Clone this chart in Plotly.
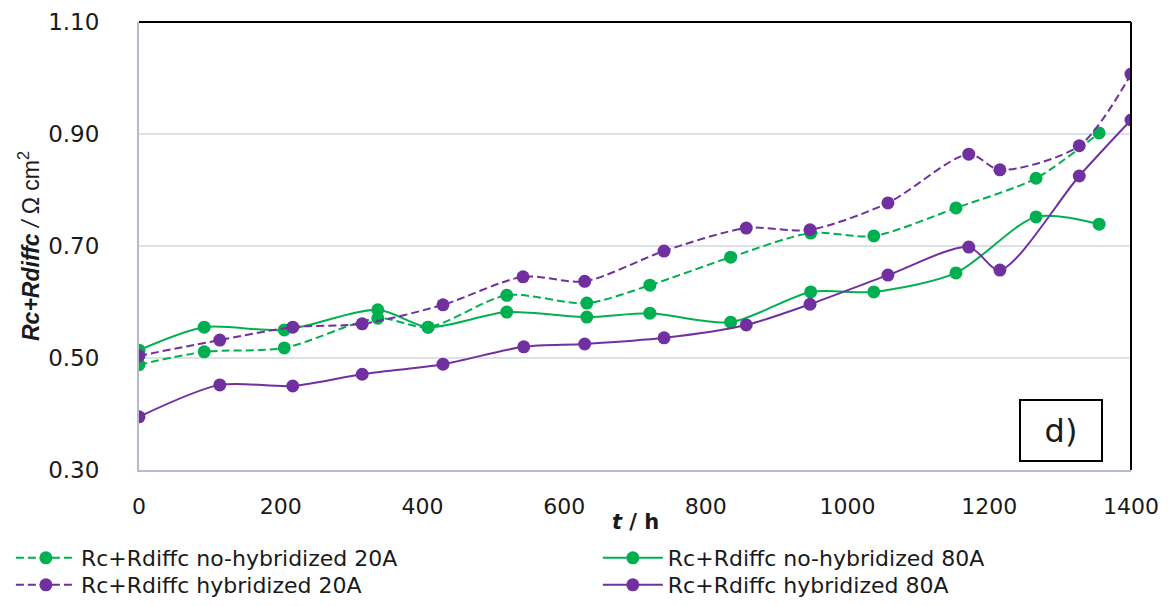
import plotly.graph_objects as go

# Data
t_nohyb20 = [0, 92, 205, 337, 408, 519, 632, 721, 835, 948, 1037, 1153, 1266, 1355]
y_nohyb20 = [0.488, 0.511, 0.518, 0.571, 0.555, 0.612, 0.598, 0.630, 0.680, 0.723, 0.718, 0.768, 0.821, 0.902]

t_nohyb80 = [0, 92, 205, 337, 408, 519, 632, 721, 835, 948, 1037, 1153, 1266, 1355]
y_nohyb80 = [0.514, 0.555, 0.550, 0.586, 0.555, 0.582, 0.573, 0.580, 0.564, 0.618, 0.618, 0.652, 0.752, 0.739]

t_hyb20 = [0, 114, 217, 315, 429, 542, 629, 741, 857, 947, 1057, 1171, 1215, 1327, 1400]
y_hyb20 = [0.504, 0.532, 0.555, 0.561, 0.595, 0.645, 0.637, 0.691, 0.732, 0.729, 0.777, 0.864, 0.836, 0.879, 1.007]

t_hyb80 = [0, 114, 217, 315, 429, 543, 629, 741, 857, 947, 1057, 1171, 1215, 1327, 1400]
y_hyb80 = [0.395, 0.452, 0.450, 0.471, 0.489, 0.520, 0.525, 0.536, 0.559, 0.596, 0.648, 0.698, 0.657, 0.825, 0.925]

names = ["Rc+Rdiffc no-hybridized 20A", "Rc+Rdiffc no-hybridized 80A",
         "Rc+Rdiffc hybridized 20A", "Rc+Rdiffc hybridized 80A"]

x_ticks = [0, 200, 400, 600, 800, 1000, 1200, 1400]
y_ticks = [0.30, 0.50, 0.70, 0.90, 1.10]

GREEN = "#00B050"
PURPLE = "#7030A0"
FONT = "DejaVu Sans"
TXT = "#1a1a1a"

# figure size compensates for the 8px default page margin
W, H = 1152, 590

series = [
    (t_nohyb20, y_nohyb20, names[0], GREEN, "8px,4px", "legend"),
    (t_nohyb80, y_nohyb80, names[1], GREEN, "solid", "legend2"),
    (t_hyb20, y_hyb20, names[2], PURPLE, "8px,4px", "legend3"),
    (t_hyb80, y_hyb80, names[3], PURPLE, "solid", "legend4"),
]

fig = go.Figure()
for xs, ys, nm, col, dash, lg in series:
    fig.add_trace(go.Scatter(
        x=xs, y=ys, name=nm, mode="lines+markers", legend=lg,
        line=dict(color=col, width=2, dash=dash, shape="spline", smoothing=0.8),
        marker=dict(color=col, size=13),
    ))

def leg(x, y):
    return dict(
        orientation="v", xref="container", yref="container",
        xanchor="left", yanchor="middle", x=x, y=y,
        itemwidth=60, tracegroupgap=0, bgcolor="rgba(0,0,0,0)",
        font=dict(family=FONT, size=22, color=TXT),
    )

fig.update_layout(
    width=W, height=H,
    margin=dict(l=131, r=29, t=14, b=128, autoexpand=False),
    paper_bgcolor="white", plot_bgcolor="white",
    font=dict(family=FONT, size=22, color=TXT),
    showlegend=True,
    legend=leg(0.0025, 0.0678),
    legend2=leg(0.512, 0.0678),
    legend3=leg(0.0025, 0.022),
    legend4=leg(0.512, 0.022),
)

fig.update_xaxes(
    range=[0, 1400], tickvals=x_ticks, ticktext=[str(v) for v in x_ticks],
    showgrid=False, zeroline=False,
    showline=True, linecolor="#b4bccc", linewidth=2,
    ticks="", ticklabelstandoff=16,
    tickfont=dict(family=FONT, size=22, color=TXT),
)
fig.update_yaxes(
    range=[0.30, 1.10], tickvals=y_ticks, ticktext=[f"{v:.2f}" for v in y_ticks],
    showgrid=True, gridcolor="#dde1e8", gridwidth=1.5, zeroline=False,
    showline=True, linecolor="#b4bccc", linewidth=2,
    ticks="", ticklabelstandoff=33,
    tickfont=dict(family=FONT, size=23, color=TXT),
)

# Axis titles
fig.add_annotation(
    text="<b><i>t</i> / h</b>", xref="paper", yref="paper", x=0.5, y=0,
    xanchor="center", yanchor="middle", yshift=-52, showarrow=False,
    font=dict(family=FONT, size=21, color=TXT),
)
fig.add_annotation(
    text="<i><b>Rc+Rdiffc</b> /</i> Ω cm<sup>2</sup>", xref="paper", yref="paper",
    x=0, y=0.5, xanchor="center", yanchor="middle", xshift=-110, textangle=-90,
    showarrow=False, font=dict(family="Liberation Sans", size=23, color=TXT),
)

# Top and right black frame lines
fig.add_shape(type="line", xref="paper", yref="paper", x0=0, x1=1, y0=1, y1=1,
              line=dict(color="black", width=2))
fig.add_shape(type="line", xref="paper", yref="paper", x0=1, x1=1, y0=0, y1=1,
              line=dict(color="black", width=2))

# Panel label
fig.add_annotation(
    text="d)", xref="paper", yref="paper", x=0.9294, y=0.0882,
    xanchor="center", yanchor="middle", showarrow=False,
    font=dict(family=FONT, size=32, color=TXT),
    bordercolor="black", borderwidth=2, borderpad=6, bgcolor="white",
    width=68, height=47,
)

fig.write_html("out.html")
